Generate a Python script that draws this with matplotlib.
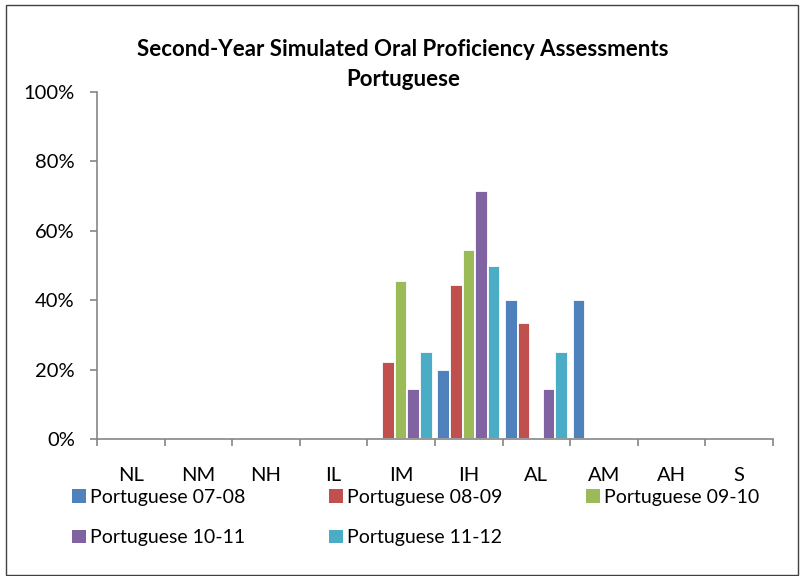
import matplotlib
matplotlib.use('Agg')
import matplotlib.pyplot as plt
from matplotlib.patches import Patch, Rectangle
import numpy as np

categories = ['NL', 'NM', 'NH', 'IL', 'IM', 'IH', 'AL', 'AM', 'AH', 'S']
series_names = ['Portuguese 07-08', 'Portuguese 08-09', 'Portuguese 09-10',
                'Portuguese 10-11', 'Portuguese 11-12']
p0708 = [0, 0, 0, 0, 0, 20.0, 40.0, 40.0, 0, 0]
p0809 = [0, 0, 0, 0, 22.2, 44.4, 33.3, 0, 0, 0]
p0910 = [0, 0, 0, 0, 45.5, 54.5, 0, 0, 0, 0]
p1011 = [0, 0, 0, 0, 14.3, 71.4, 14.3, 0, 0, 0]
p1112 = [0, 0, 0, 0, 25.0, 50.0, 25.0, 0, 0, 0]
yticks = [0, 20, 40, 60, 80, 100]
ytick_labels = ['0%', '20%', '40%', '60%', '80%', '100%']
title_lines = ['Second-Year Simulated Oral Proficiency Assessments', 'Portuguese']

series = [p0708, p0809, p0910, p1011, p1112]
colors = ['#4F81BD', '#C0504D', '#9BBB59', '#8064A2', '#4BACC6']

plt.rcParams['font.family'] = ['Lato', 'DejaVu Sans']

W, H = 801, 576
fig = plt.figure(figsize=(W / 100, H / 100), dpi=100)
ax = fig.add_axes([97 / W, 1 - 439 / H, (773 - 97) / W, (439 - 92) / H])

x = np.arange(len(categories))
slot = 0.186
for i, (vals, col) in enumerate(zip(series, colors)):
    ax.bar(x + (i - 2) * slot, vals, width=slot, color=col,
           edgecolor='white', linewidth=1.3)

ax.set_xlim(-0.5, len(categories) - 0.5)
ax.set_ylim(0, 100)
ax.set_yticks(yticks)
ax.set_yticklabels(ytick_labels, fontsize=14.5)
ax.set_xticks(x)
ax.set_xticklabels(categories, fontsize=14.5)
ax.set_xticks(np.arange(len(categories) + 1) - 0.5, minor=True)

spine_c = '#868686'
for s in ['top', 'right']:
    ax.spines[s].set_visible(False)
for s in ['left', 'bottom']:
    ax.spines[s].set_color(spine_c)
    ax.spines[s].set_linewidth(1.2)
ax.tick_params(axis='y', direction='out', length=5, width=1.2, color=spine_c, pad=11)
ax.tick_params(axis='x', which='major', length=0, pad=20)
ax.tick_params(axis='x', which='minor', direction='out', length=5, width=1.2, color=spine_c)

fig.text(403 / W, 1 - 50 / H, title_lines[0], ha='center', va='center',
         fontsize=16, fontweight='bold')
fig.text(403 / W, 1 - 80 / H, title_lines[1], ha='center', va='center',
         fontsize=16, fontweight='bold')

handles = [Patch(facecolor=c, edgecolor='none') for c in colors]
order = [0, 3, 1, 4, 2]
fig.legend([handles[k] for k in order], [series_names[k] for k in order],
           ncol=3, loc='upper left', bbox_to_anchor=(72 / W, 1 - 489 / H),
           frameon=False, fontsize=14, handlelength=0.7, handleheight=0.7,
           handletextpad=0.2, columnspacing=4.33, labelspacing=1.2, borderpad=0,
           borderaxespad=0)

fig.add_artist(Rectangle((6 / W, 1 - 575 / H), 792 / W, 570 / H,
                         transform=fig.transFigure, fill=False,
                         edgecolor='#404040', linewidth=1.0))

fig.savefig('out.png', dpi=100)
